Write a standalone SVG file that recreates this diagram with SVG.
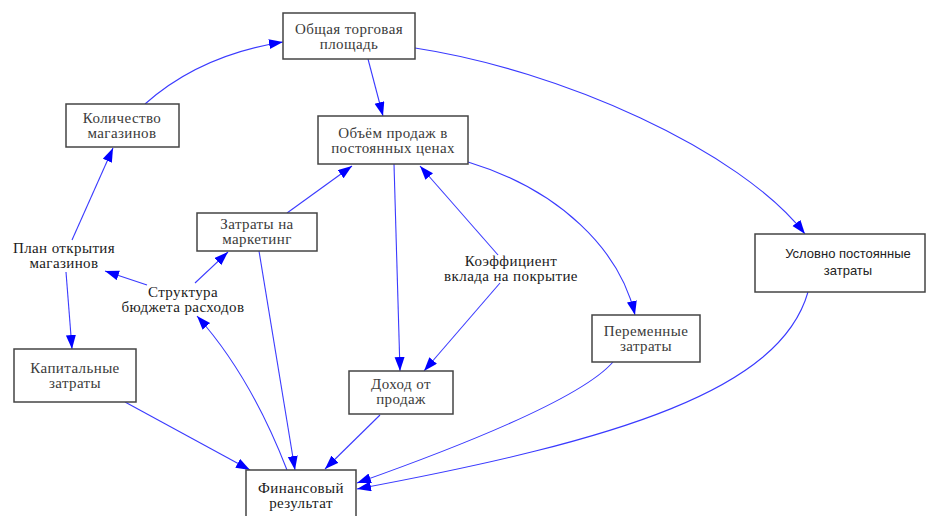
<svg xmlns="http://www.w3.org/2000/svg" width="931" height="516" viewBox="0 0 931 516">
<defs>
<marker id="ah" markerUnits="userSpaceOnUse" markerWidth="15" markerHeight="11" refX="14" refY="5" orient="auto">
<path d="M0,0 L14,5 L0,10 z" fill="#0000ff"/>
</marker>
<style>
.box{fill:#fff;stroke:#444;stroke-width:1.5}
.t{font-size:15px;fill:#3a3a3a;text-anchor:middle;letter-spacing:0.4px}
.s{font-family:'Liberation Sans','DejaVu Sans',sans-serif;font-size:13px;fill:#222;text-anchor:middle}
.l{font-size:15px;fill:#1a1a1a;text-anchor:middle;letter-spacing:0.4px}
.c{fill:none;stroke:#3a3aff;stroke-width:1.1;marker-end:url(#ah)}
</style>
</defs>
<rect width="931" height="516" fill="#fff"/>
<g id="connectors">
<path class="c" d="M145,104 Q200,55 283,42"/>
<path class="c" d="M368,59 L383,116"/>
<path class="c" d="M415,48 C560,70 740,150 805,234"/>
<path class="c" d="M72,240 L113,148"/>
<path class="c" d="M66,272 L72,349"/>
<path class="c" d="M147,285 L105,271"/>
<path class="c" d="M195,283 L228,252"/>
<path class="c" d="M287,470 Q250,375 197,316"/>
<path class="c" d="M287,213 L352,166"/>
<path class="c" d="M259,251 L295,470"/>
<path class="c" d="M394,164 L400,371"/>
<path class="c" d="M498,255 L420,166"/>
<path class="c" d="M500,283 L424,371"/>
<path class="c" d="M468,162 C560,190 620,250 635,315"/>
<path class="c" d="M125,402 L250,470"/>
<path class="c" d="M380,415 L325,469"/>
<path class="c" d="M613,362 C580,400 450,450 357,483"/>
<path class="c" d="M808,292 C780,390 620,440 357,489"/>
</g>
<g font-family="Liberation Serif, Times New Roman, serif">
<g id="n-obshaya"><rect class="box" x="283" y="13" width="132" height="46"/><text class="t" x="349" y="34">Общая торговая</text><text class="t" x="349" y="49">площадь</text></g>
<g id="n-kolichestvo"><rect class="box" x="66" y="104" width="113" height="43"/><text class="t" x="122" y="123">Количество</text><text class="t" x="122" y="138">магазинов</text></g>
<g id="n-obyom"><rect class="box" x="318" y="116" width="150" height="48"/><text class="t" x="393" y="138">Объём продаж в</text><text class="t" x="393" y="153">постоянных ценах</text></g>
<g id="n-marketing"><rect class="box" x="197" y="213" width="120" height="38"/><text class="t" x="257" y="229">Затраты на</text><text class="t" x="257" y="244">маркетинг</text></g>
<g id="n-uslovno"><rect class="box" x="755" y="234" width="170" height="58"/><text class="s" x="848" y="258">Условно постоянные</text><text class="s" x="848" y="275">затраты</text></g>
<g id="n-peremennye"><rect class="box" x="592" y="315" width="108" height="47"/><text class="t" x="646" y="336">Переменные</text><text class="t" x="646" y="351">затраты</text></g>
<g id="n-kapital"><rect class="box" x="14" y="349" width="122" height="53"/><text class="t" x="75" y="373">Капитальные</text><text class="t" x="75" y="388">затраты</text></g>
<g id="n-dohod"><rect class="box" x="349" y="371" width="104" height="43"/><text class="t" x="401" y="389">Доход от</text><text class="t" x="401" y="404">продаж</text></g>
<g id="n-finans"><rect class="box" x="246" y="470" width="110" height="60"/><text class="l" x="301" y="493">Финансовый</text><text class="l" x="301" y="508">результат</text></g>
<g id="n-plan"><text class="l" x="64" y="253">План открытия</text><text class="l" x="64" y="268">магазинов</text></g>
<g id="n-struktura"><text class="l" x="183" y="297">Структура</text><text class="l" x="183" y="312">бюджета расходов</text></g>
<g id="n-koeff"><text class="l" x="511" y="266">Коэффициент</text><text class="l" x="511" y="281">вклада на покрытие</text></g>
</g>
</svg>
